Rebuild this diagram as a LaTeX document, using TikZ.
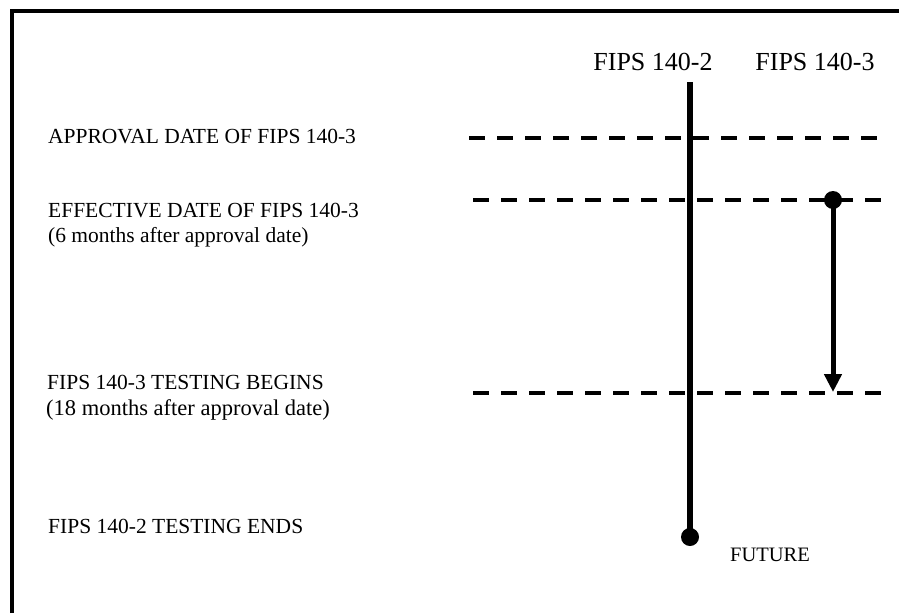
\documentclass[tikz,border=0pt]{standalone}
\usepackage{fontspec}
\setmainfont{Liberation Serif}
\usetikzlibrary{arrows.meta}
\begin{document}
\begin{tikzpicture}[x=1pt,y=-1pt,
  frameline/.style={line width=4pt},
  timeline/.style={line width=6pt},
  dashline/.style={line width=4pt,dash pattern=on 16pt off 12pt},
  lbl/.style={anchor=base west,inner sep=0pt,font=\fontsize{21.5}{25}\selectfont},
  hdr/.style={anchor=base,inner sep=0pt,font=\fontsize{26}{30}\selectfont},
  dot/.style={circle,fill=black,inner sep=0pt,minimum size=18pt}]
\useasboundingbox (0,0) rectangle (899,613);
% frame
\coordinate (fb) at (12,613);
\coordinate (ftl) at (12,11);
\coordinate (fr) at (899,11);
\draw[frameline] (fb) -- (ftl) -- (fr);
% headers
\node[hdr] (h2) at (653,70) {FIPS 140-2};
\node[hdr] (h3) at (815,70) {FIPS 140-3};
% dashed lines
\coordinate (d1a) at (469,138); \coordinate (d1b) at (880,138);
\coordinate (d2a) at (473,200); \coordinate (d2b) at (884,200);
\coordinate (d3a) at (473,393); \coordinate (d3b) at (884,393);
\draw[dashline] (d1a) -- (d1b);
\draw[dashline] (d2a) -- (d2b);
\draw[dashline] (d3a) -- (d3b);
% FIPS 140-2 timeline
\coordinate (t2top) at (690,82);
\node[dot] (t2end) at (690,537) {};
\draw[timeline] (t2top) -- (t2end.center);
% FIPS 140-3 arrow
\node[dot] (t3start) at (833,200) {};
\coordinate (t3end) at (833,392);
\draw[line width=5pt,-{Triangle[length=18pt,width=17pt]}] (t3start.center) -- (t3end);
% labels
\node[lbl] (l1) at (48,143) {APPROVAL DATE OF FIPS 140-3};
\node[lbl] (l2) at (48,217) {EFFECTIVE DATE OF FIPS 140-3};
\node[lbl] (l2b) at (48,242) {(6 months after approval date)};
\node[lbl] (l3) at (47,389) {FIPS 140-3 TESTING BEGINS};
\node[lbl,font=\fontsize{22.5}{26}\selectfont] (l3b) at (46,415) {(18 months after approval date)};
\node[lbl] (l4) at (48,533) {FIPS 140-2 TESTING ENDS};
\node[lbl,font=\fontsize{20.5}{24}\selectfont] (fut) at (730,561) {FUTURE};
\end{tikzpicture}
\end{document}
